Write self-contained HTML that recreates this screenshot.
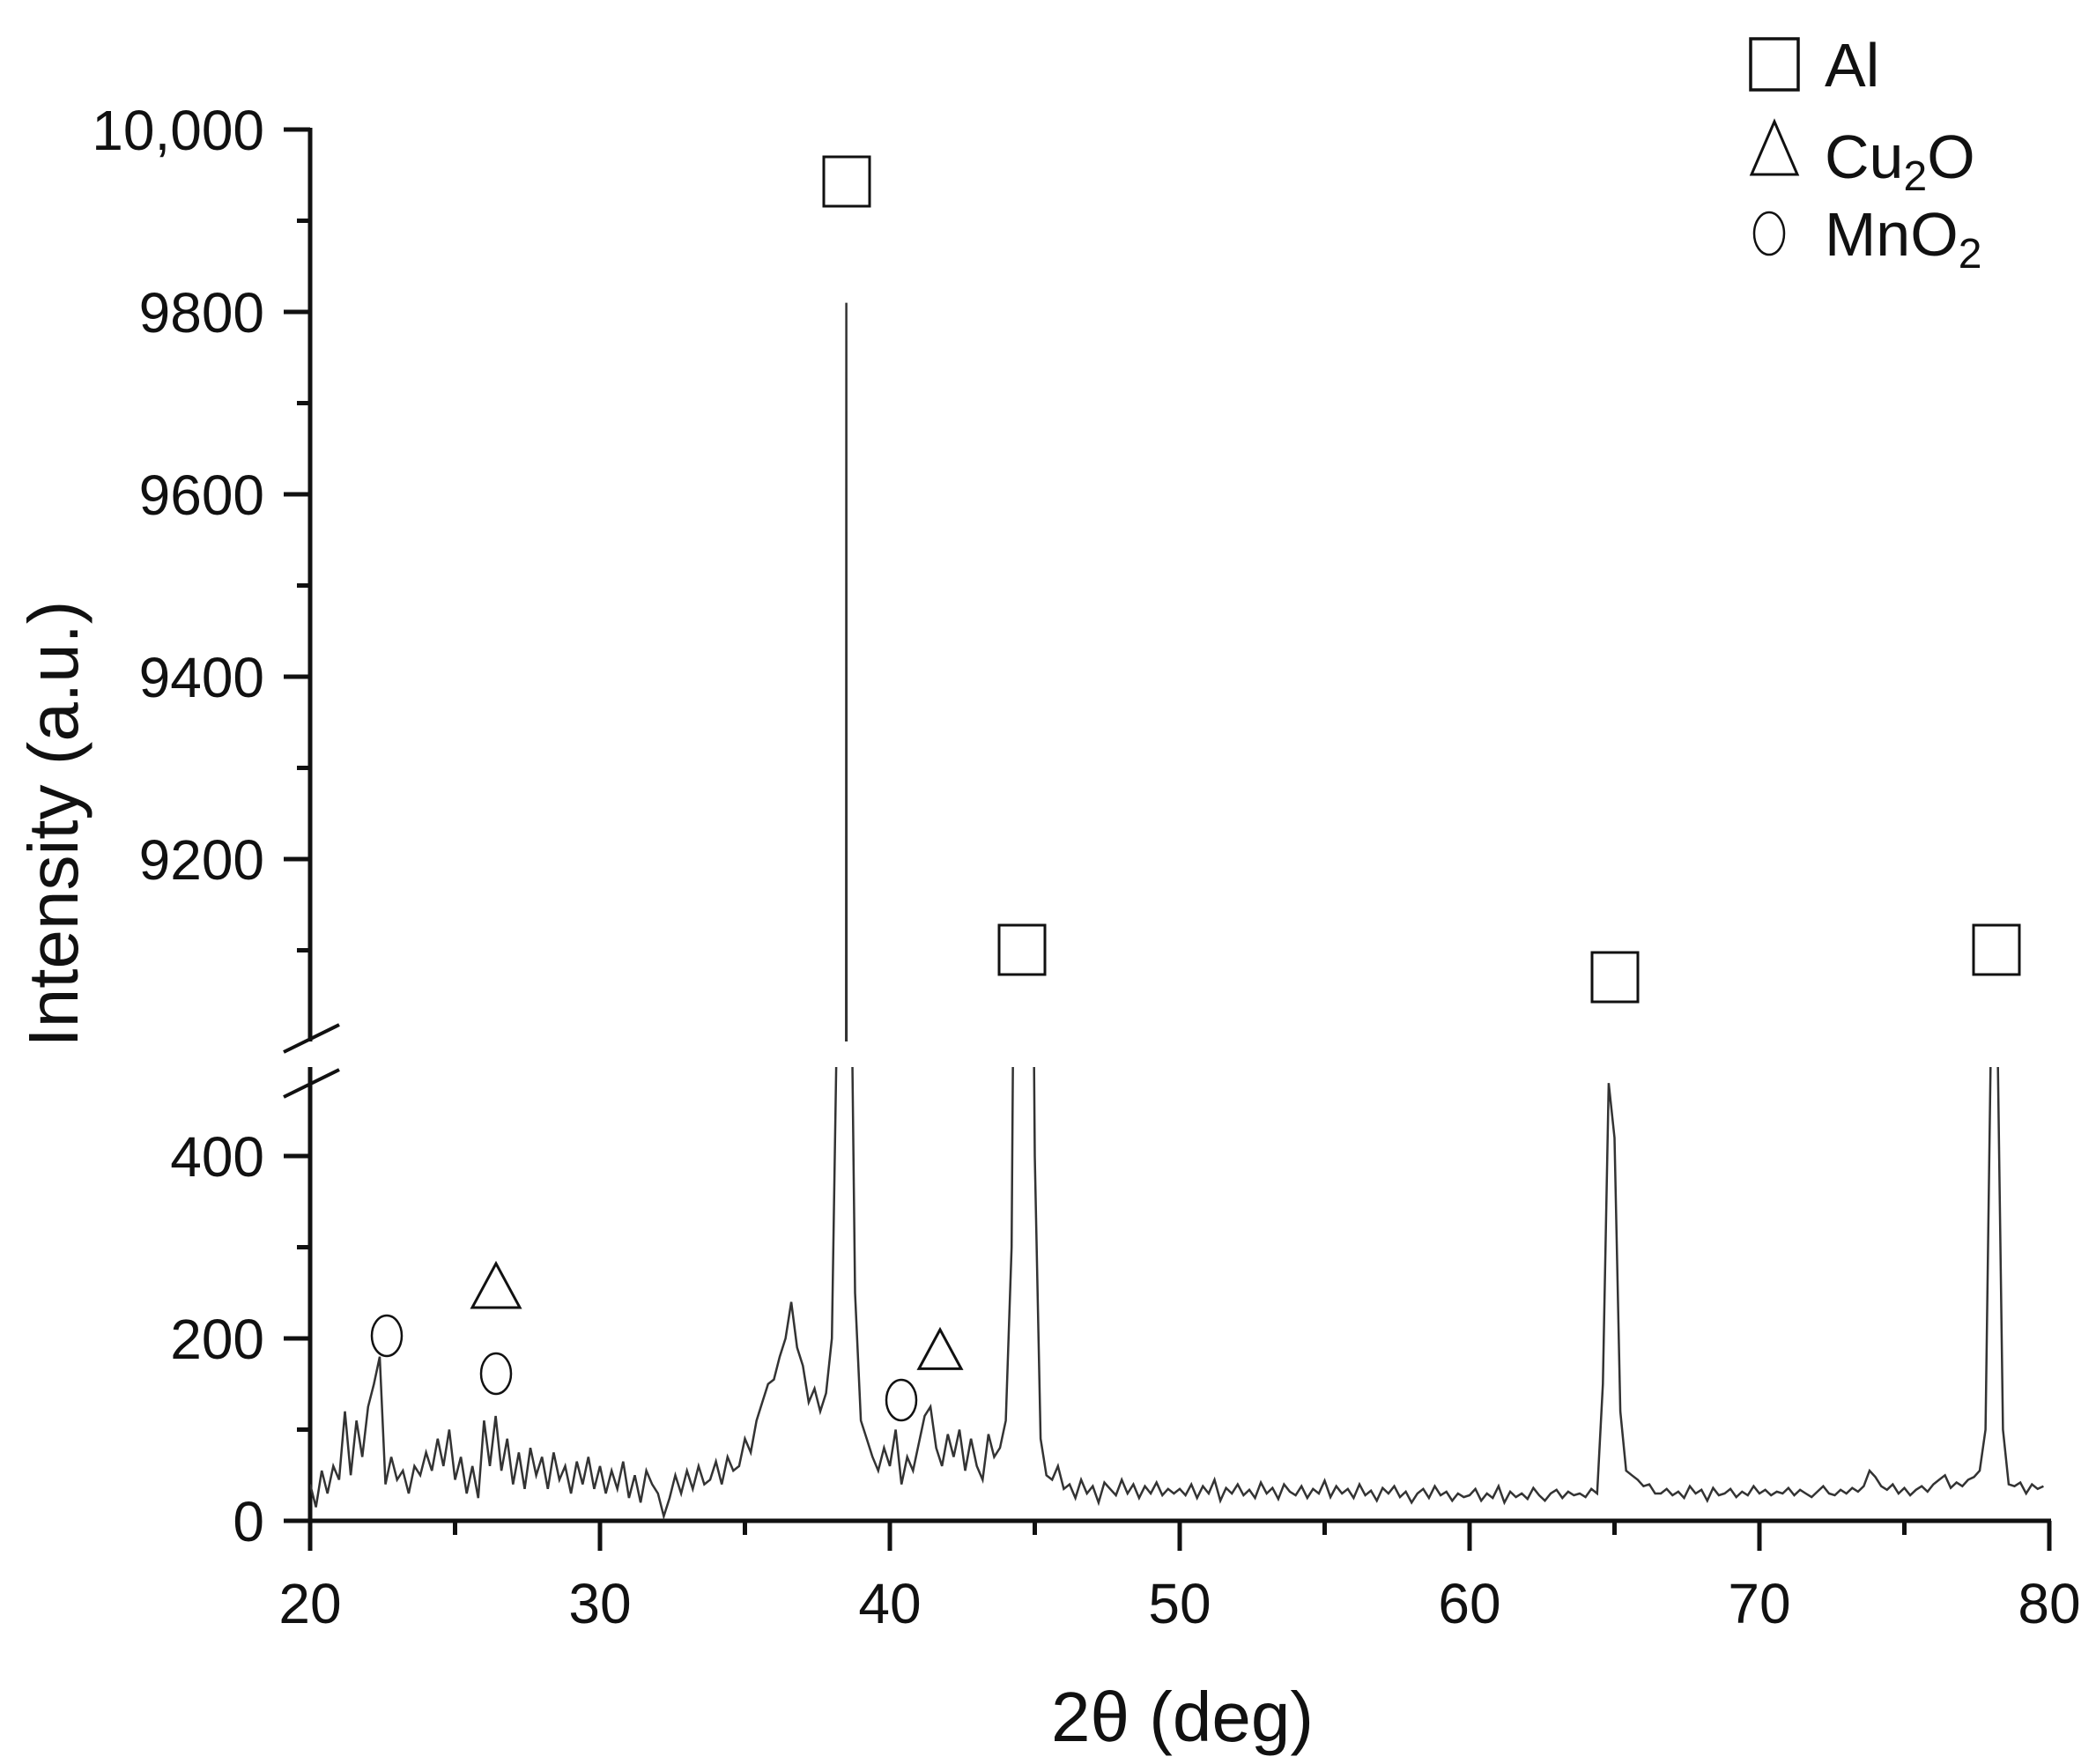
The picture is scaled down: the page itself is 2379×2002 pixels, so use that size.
<!DOCTYPE html>
<html><head><meta charset="utf-8">
<style>
html,body{margin:0;padding:0;background:#fff;overflow:hidden;width:2379px;height:2002px;}
svg{display:block;font-family:"Liberation Sans",Arial,sans-serif;}
</style></head>
<body>
<svg id="chart" width="2379" height="2002" viewBox="0 0 2379 2002" xmlns="http://www.w3.org/2000/svg">
<defs>
<clipPath id="clipUpper"><rect x="352" y="140" width="1976" height="1042"/></clipPath>
<clipPath id="clipLower"><rect x="352" y="1211" width="1976" height="516"/></clipPath>
</defs>
<g id="axes"></g>
<g id="series" fill="none" stroke="#333" stroke-width="2.5"></g>
<g id="markers" fill="none" stroke="#111" stroke-width="3"></g>
<g id="legend" font-size="70" fill="#111">
  <rect x="1987" y="44" width="54" height="58" fill="none" stroke="#111" stroke-width="3.5"/>
  <text x="2071" y="98">Al</text>
  <polygon points="2014,138 1988,198 2040,198" fill="none" stroke="#111" stroke-width="3"/>
  <text x="2071" y="202">Cu<tspan font-size="48" dy="14">2</tspan><tspan dy="-14">O</tspan></text>
  <ellipse cx="2008" cy="265" rx="17" ry="24" fill="none" stroke="#111" stroke-width="2.5"/>
  <text x="2071" y="290">MnO<tspan font-size="48" dy="14">2</tspan></text>
</g>
<text x="1342" y="1976" font-size="80" text-anchor="middle" fill="#111">2θ (deg)</text>
<text transform="translate(88,935) rotate(-90)" font-size="80" text-anchor="middle" fill="#111">Intensity (a.u.)</text>
</svg>
<script>
// baseline intensities sampled every 0.2 deg from 20.0 to 80.0
const startTheta = 20.0;
const stepTheta = 0.2;
const baseIntensity = [
40,15,55,30,60,45,120,50,110,70,125,
150,180,40,70,45,55,30,60,50,75,
55,90,60,100,45,70,30,60,25,110,
60,115,55,90,40,75,35,80,50,70,
35,75,45,60,30,65,40,70,35,60,
30,55,35,65,25,50,20,55,40,30,
5,25,50,30,55,35,60,40,45,65,
40,70,55,60,90,75,110,130,150,155,
180,200,240,190,170,130,145,120,140,200,
600,2000,800,250,110,90,70,55,80,60,
100,40,70,55,85,115,125,80,60,95,
70,100,55,90,60,45,95,70,80,110,
300,1200,1500,1200,400,90,50,45,60,35,
40,25,45,30,38,20,42,35,28,45,30,40,25,38,30,42,28,35,30,
35,28,40,25,38,30,45,22,36,30,40,28,34,25,42,30,36,24,40,32,
28,38,25,35,30,44,26,38,30,35,25,40,28,33,22,36,30,38,26,32,
20,30,35,25,38,28,32,22,30,26,
28,35,22,30,25,38,20,32,26,30,24,36,28,22,30,34,25,32,28,30,26,35,30,
150,480,420,120,55,50,45,38,40,30,
30,35,28,32,25,38,30,34,22,36,
28,30,35,26,32,28,38,30,34,28,
32,30,36,28,34,30,26,32,38,30,
28,34,30,36,32,38,55,48,38,34,
40,30,36,28,34,38,32,40,45,50,
36,42,38,45,48,55,
100,560,560,100,40,38,42,30,40,35,38
];
// extra sharp peak points [2theta, intensity]
const peakTheta = [38.5];
const peakIntensity = [9810];

const svg = document.getElementById('chart');
const NS = 'http://www.w3.org/2000/svg';
const X0 = 352, X1 = 2326, xMin = 20, xMax = 80;
const xs = v => X0 + (v - xMin) / (xMax - xMin) * (X1 - X0);
const yLow = v => 1726 - v * 1.035;
const yUp = v => 147 + (10000 - v) * 1.035;

function mk(tag, attrs, parent) {
  const e = document.createElementNS(NS, tag);
  for (const k in attrs) e.setAttribute(k, attrs[k]);
  parent.appendChild(e);
  return e;
}

let pts = baseIntensity.map((v, i) => [startTheta + i * stepTheta, v]);
peakTheta.forEach((t, i) => pts.push([t, peakIntensity[i]]));
pts.sort((a, b) => a[0] - b[0]);

const series = document.getElementById('series');
const dLow = pts.map((p, i) => (i ? 'L' : 'M') + xs(p[0]).toFixed(1) + ',' + yLow(p[1]).toFixed(1)).join('');
const dUp = pts.map((p, i) => (i ? 'L' : 'M') + xs(p[0]).toFixed(1) + ',' + yUp(p[1]).toFixed(1)).join('');
const pl = mk('path', {d: dLow, 'clip-path': 'url(#clipLower)'}, series);


const pu = mk('path', {d: dUp, 'clip-path': 'url(#clipUpper)'}, series);



const axes = document.getElementById('axes');
const ax = {stroke: '#111', 'stroke-width': 5, fill: 'none'};
let e = mk('line', Object.assign({x1: X0, y1: 145, x2: X0, y2: 1182}, ax), axes);
 
e = mk('line', Object.assign({x1: X0, y1: 1211, x2: X0, y2: 1750}, ax), axes);
 
e = mk('line', Object.assign({x1: 322, y1: 1726, x2: X1 + 2, y2: 1726}, ax), axes);
 
e = mk('path', {d: 'M322,1194 L385,1163 M322,1245 L385,1214', stroke: '#111', 'stroke-width': 4, fill: 'none'}, axes);
 

const upperTicks = [10000, 9800, 9600, 9400, 9200];
const upperTickLabels = ['10,000', '9800', '9600', '9400', '9200'];
const lowerTicks = [0, 200, 400];
const xTicks = [20, 30, 40, 50, 60, 70, 80];

for (let v = 9100; v <= 10000; v += 100) {
  const major = v % 200 === 0;
  e = mk('line', {x1: major ? 322 : 337, x2: X0, y1: yUp(v), y2: yUp(v), stroke: '#111', 'stroke-width': 5}, axes);
   
}
upperTicks.forEach((v, i) => {
  e = mk('text', {x: 300, y: yUp(v) + 23, 'font-size': 64, 'text-anchor': 'end', fill: '#111'}, axes);
  e.textContent = upperTickLabels[i];
   
});
for (let v = 0; v <= 400; v += 100) {
  const major = v % 200 === 0;
  e = mk('line', {x1: major ? 322 : 337, x2: X0, y1: yLow(v), y2: yLow(v), stroke: '#111', 'stroke-width': 5}, axes);
   
}
lowerTicks.forEach(v => {
  e = mk('text', {x: 300, y: yLow(v) + 23, 'font-size': 64, 'text-anchor': 'end', fill: '#111'}, axes);
  e.textContent = String(v);
   
});
for (let v = 20; v <= 80; v += 5) {
  const major = v % 10 === 0;
  e = mk('line', {x1: xs(v), x2: xs(v), y1: 1726, y2: major ? 1760 : 1742, stroke: '#111', 'stroke-width': 5}, axes);
   
}
xTicks.forEach(v => {
  e = mk('text', {x: xs(v), y: 1842, 'font-size': 64, 'text-anchor': 'middle', fill: '#111'}, axes);
  e.textContent = String(v);
   
});

const markers = document.getElementById('markers');
const squareAt = [[961, 206], [1160, 1078], [1833, 1109], [2266, 1078]];
squareAt.forEach(p => {
  e = mk('rect', {x: p[0] - 26, y: p[1] - 28, width: 52, height: 56}, markers);
   
});
const triAt = [[563, 1461, 27], [1067, 1533, 24]];
triAt.forEach(p => {
  e = mk('polygon', {points: `${p[0]},${p[1] - p[2]} ${p[0] - p[2]},${p[1] + p[2] * 0.85} ${p[0] + p[2]},${p[1] + p[2] * 0.85}`}, markers);
   
});
const circAt = [[439, 1516], [563, 1559], [1023, 1589]];
circAt.forEach(p => {
  e = mk('ellipse', {cx: p[0], cy: p[1], rx: 17, ry: 23, 'stroke-width': 2.5}, markers);
   
});
</script>
</body></html>
